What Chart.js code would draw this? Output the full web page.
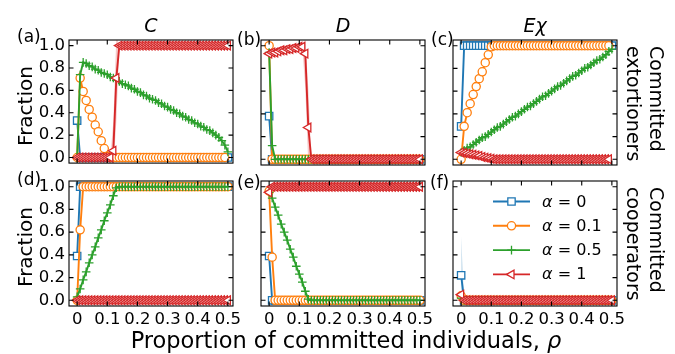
<!DOCTYPE html>
<html>
<head>
<meta charset="utf-8">
<script src="https://cdn.jsdelivr.net/npm/chart.js@4.4.0/dist/chart.umd.min.js"></script>
<style>
  body { margin: 0; background: #fff; width: 675px; height: 354px; overflow: hidden; position: relative;
         font-family: "DejaVu Sans", sans-serif; color: #000; }
  canvas { position: absolute; }
  .t { position: absolute; white-space: nowrap; line-height: 1; z-index: 2; }
  .c { transform: translate(-50%, -50%); }
  .rot { transform: translate(-50%, -50%) rotate(-90deg); }
  .side { writing-mode: vertical-rl; line-height: 23px; font-size: 19px; }
  .leg { font-size: 16px; }
</style>
</head>
<body>

<script>
// x grid: proportion of committed individuals
const rho = [0, 0.01, 0.02, 0.03, 0.04, 0.05, 0.06, 0.07, 0.08, 0.09,
  0.1, 0.11, 0.12, 0.13, 0.14, 0.15, 0.16, 0.17, 0.18, 0.19,
  0.2, 0.21, 0.22, 0.23, 0.24, 0.25, 0.26, 0.27, 0.28, 0.29,
  0.3, 0.31, 0.32, 0.33, 0.34, 0.35, 0.36, 0.37, 0.38, 0.39,
  0.4, 0.41, 0.42, 0.43, 0.44, 0.45, 0.46, 0.47, 0.48, 0.49, 0.5];
const xTicks = [0, 0.1, 0.2, 0.3, 0.4, 0.5];
const yTicks = [0, 0.2, 0.4, 0.6, 0.8, 1.0];
const alphas = ['0', '0.1', '0.5', '1'];
const titles = ['C', 'D', 'Eχ'];

// committed extortioners: fraction of C (a), D (b), Eχ (c)
const aBlue = [0.33, 0, 0, 0, 0, 0, 0, 0, 0, 0,
  0, 0, 0, 0, 0, 0, 0, 0, 0, 0, 0, 0, 0, 0, 0, 0, 0, 0, 0, 0,
  0, 0, 0, 0, 0, 0, 0, 0, 0, 0, 0, 0, 0, 0, 0, 0, 0, 0, 0, 0, 0];
const aOrange = [0, 0.71, 0.59, 0.51, 0.43, 0.36, 0.29, 0.23, 0.15, 0.08, 0.01,
  0, 0, 0, 0, 0, 0, 0, 0, 0, 0, 0, 0, 0, 0, 0, 0, 0, 0, 0,
  0, 0, 0, 0, 0, 0, 0, 0, 0, 0, 0, 0, 0, 0, 0, 0, 0, 0, 0, 0];
const aGreen = [0, 0.74, 0.85, 0.84, 0.82, 0.81, 0.79, 0.78, 0.76, 0.75,
  0.74, 0.72, 0.71, 0.69, 0.68, 0.66, 0.65, 0.64, 0.62, 0.61,
  0.59, 0.58, 0.56, 0.55, 0.53, 0.52, 0.51, 0.49, 0.48, 0.46,
  0.45, 0.43, 0.42, 0.40, 0.39, 0.37, 0.36, 0.34, 0.33, 0.31,
  0.30, 0.28, 0.27, 0.25, 0.24, 0.22, 0.20, 0.18, 0.15, 0.11, 0.05];
const aRed = [0, 0, 0, 0, 0, 0, 0, 0, 0, 0, 0, 0, 0.06, 0.71,
  1, 1, 1, 1, 1, 1, 1, 1, 1, 1, 1, 1, 1, 1, 1, 1, 1, 1, 1, 1, 1, 1,
  1, 1, 1, 1, 1, 1, 1, 1, 1, 1, 1, 1, 1, 1, 1];
// spread of the α = 1 runs around the jump
const aRedUpper = [0, 0, 0, 0, 0, 0, 0, 0, 0, 0, 0, 0, 0.32, 1.08,
  1, 1, 1, 1, 1, 1, 1, 1, 1, 1, 1, 1, 1, 1, 1, 1, 1, 1, 1, 1, 1, 1,
  1, 1, 1, 1, 1, 1, 1, 1, 1, 1, 1, 1, 1, 1, 1];
const aRedLower = [0, 0, 0, 0, 0, 0, 0, 0, 0, 0, 0, 0, -0.1, 0.32,
  1, 1, 1, 1, 1, 1, 1, 1, 1, 1, 1, 1, 1, 1, 1, 1, 1, 1, 1, 1, 1, 1,
  1, 1, 1, 1, 1, 1, 1, 1, 1, 1, 1, 1, 1, 1, 1];

const bBlue = [0.38, 0, 0, 0, 0, 0, 0, 0, 0, 0,
  0, 0, 0, 0, 0, 0, 0, 0, 0, 0, 0, 0, 0, 0, 0, 0, 0, 0, 0, 0,
  0, 0, 0, 0, 0, 0, 0, 0, 0, 0, 0, 0, 0, 0, 0, 0, 0, 0, 0, 0, 0];
const bOrange = [1, 0, 0, 0, 0, 0, 0, 0, 0, 0,
  0, 0, 0, 0, 0, 0, 0, 0, 0, 0, 0, 0, 0, 0, 0, 0, 0, 0, 0, 0,
  0, 0, 0, 0, 0, 0, 0, 0, 0, 0, 0, 0, 0, 0, 0, 0, 0, 0, 0, 0, 0];
const bGreen = [0.94, 0.12, 0, 0, 0, 0, 0, 0, 0, 0,
  0, 0, 0, 0, 0, 0, 0, 0, 0, 0, 0, 0, 0, 0, 0, 0, 0, 0, 0, 0,
  0, 0, 0, 0, 0, 0, 0, 0, 0, 0, 0, 0, 0, 0, 0, 0, 0, 0, 0, 0, 0];
const bRed = [0.93, 0.94, 0.94, 0.95, 0.96, 0.96, 0.97, 0.97, 0.98, 0.98,
  0.99, 0.99, 0.93, 0.28, 0, 0, 0, 0, 0, 0, 0, 0, 0, 0, 0, 0, 0, 0, 0, 0,
  0, 0, 0, 0, 0, 0, 0, 0, 0, 0, 0, 0, 0, 0, 0, 0, 0, 0, 0, 0, 0];
const bRedUpper = [0.93, 0.94, 0.94, 0.95, 0.96, 0.96, 0.97, 0.97, 0.98, 0.98,
  0.99, 0.99, 1.06, 0.62, 0, 0, 0, 0, 0, 0, 0, 0, 0, 0, 0, 0, 0, 0, 0, 0,
  0, 0, 0, 0, 0, 0, 0, 0, 0, 0, 0, 0, 0, 0, 0, 0, 0, 0, 0, 0, 0];
const bRedLower = [0.93, 0.94, 0.94, 0.95, 0.96, 0.96, 0.97, 0.97, 0.98, 0.98,
  0.99, 0.99, 0.62, -0.06, 0, 0, 0, 0, 0, 0, 0, 0, 0, 0, 0, 0, 0, 0, 0, 0,
  0, 0, 0, 0, 0, 0, 0, 0, 0, 0, 0, 0, 0, 0, 0, 0, 0, 0, 0, 0, 0];

const cBlue = [0.29, 1, 1, 1, 1, 1, 1, 1, 1, 1,
  1, 1, 1, 1, 1, 1, 1, 1, 1, 1, 1, 1, 1, 1, 1, 1, 1, 1, 1, 1,
  1, 1, 1, 1, 1, 1, 1, 1, 1, 1, 1, 1, 1, 1, 1, 1, 1, 1, 1, 1, 1];
const cOrange = [0, 0.29, 0.41, 0.49, 0.57, 0.64, 0.71, 0.77, 0.85, 0.92, 0.99,
  1, 1, 1, 1, 1, 1, 1, 1, 1, 1, 1, 1, 1, 1, 1, 1, 1, 1, 1,
  1, 1, 1, 1, 1, 1, 1, 1, 1, 1, 1, 1, 1, 1, 1, 1, 1, 1, 1, 1];
const cGreen = [0.06, 0.08, 0.10, 0.11, 0.13, 0.15, 0.17, 0.19, 0.20, 0.22,
  0.24, 0.26, 0.28, 0.29, 0.31, 0.33, 0.35, 0.37, 0.38, 0.40,
  0.42, 0.44, 0.46, 0.47, 0.49, 0.51, 0.53, 0.55, 0.56, 0.58,
  0.60, 0.62, 0.64, 0.65, 0.67, 0.69, 0.71, 0.73, 0.74, 0.76,
  0.78, 0.80, 0.81, 0.83, 0.85, 0.87, 0.88, 0.90, 0.92, 0.95, 0.97];
const cRed = [0.06, 0.055, 0.05, 0.045, 0.04, 0.035, 0.03, 0.02, 0.015, 0.01, 0.005,
  0, 0, 0, 0, 0, 0, 0, 0, 0, 0, 0, 0, 0, 0, 0, 0, 0, 0, 0,
  0, 0, 0, 0, 0, 0, 0, 0, 0, 0, 0, 0, 0, 0, 0, 0, 0, 0, 0, 0];

// committed cooperators: fraction of C (d), D (e), Eχ (f)
const dBlue = [0.39, 1, 1, 1, 1, 1, 1, 1, 1, 1,
  1, 1, 1, 1, 1, 1, 1, 1, 1, 1, 1, 1, 1, 1, 1, 1, 1, 1, 1, 1,
  1, 1, 1, 1, 1, 1, 1, 1, 1, 1, 1, 1, 1, 1, 1, 1, 1, 1, 1, 1, 1];
const dOrange = [0, 0.62, 1, 1, 1, 1, 1, 1, 1, 1,
  1, 1, 1, 1, 1, 1, 1, 1, 1, 1, 1, 1, 1, 1, 1, 1, 1, 1, 1, 1,
  1, 1, 1, 1, 1, 1, 1, 1, 1, 1, 1, 1, 1, 1, 1, 1, 1, 1, 1, 1, 1];
const dGreen = [0.03, 0.10, 0.18, 0.25, 0.33, 0.40, 0.47, 0.55, 0.62, 0.70,
  0.77, 0.84, 0.92, 0.99, 1, 1, 1, 1, 1, 1, 1, 1, 1, 1, 1, 1, 1, 1, 1, 1,
  1, 1, 1, 1, 1, 1, 1, 1, 1, 1, 1, 1, 1, 1, 1, 1, 1, 1, 1, 1, 1];
const dRed = [0, 0, 0, 0, 0, 0, 0, 0, 0, 0,
  0, 0, 0, 0, 0, 0, 0, 0, 0, 0, 0, 0, 0, 0, 0, 0, 0, 0, 0, 0,
  0, 0, 0, 0, 0, 0, 0, 0, 0, 0, 0, 0, 0, 0, 0, 0, 0, 0, 0, 0, 0];

const eBlue = [0.39, 0, 0, 0, 0, 0, 0, 0, 0, 0,
  0, 0, 0, 0, 0, 0, 0, 0, 0, 0, 0, 0, 0, 0, 0, 0, 0, 0, 0, 0,
  0, 0, 0, 0, 0, 0, 0, 0, 0, 0, 0, 0, 0, 0, 0, 0, 0, 0, 0, 0, 0];
const eOrange = [0.96, 0.38, 0, 0, 0, 0, 0, 0, 0, 0,
  0, 0, 0, 0, 0, 0, 0, 0, 0, 0, 0, 0, 0, 0, 0, 0, 0, 0, 0, 0,
  0, 0, 0, 0, 0, 0, 0, 0, 0, 0, 0, 0, 0, 0, 0, 0, 0, 0, 0, 0, 0];
const eGreen = [0.95, 0.90, 0.82, 0.75, 0.67, 0.60, 0.53, 0.45, 0.38, 0.30,
  0.23, 0.16, 0.08, 0.01, 0, 0, 0, 0, 0, 0, 0, 0, 0, 0, 0, 0, 0, 0, 0, 0,
  0, 0, 0, 0, 0, 0, 0, 0, 0, 0, 0, 0, 0, 0, 0, 0, 0, 0, 0, 0, 0];
const eRed = [0.95, 1, 1, 1, 1, 1, 1, 1, 1, 1,
  1, 1, 1, 1, 1, 1, 1, 1, 1, 1, 1, 1, 1, 1, 1, 1, 1, 1, 1, 1,
  1, 1, 1, 1, 1, 1, 1, 1, 1, 1, 1, 1, 1, 1, 1, 1, 1, 1, 1, 1, 1];

const fBlue = [0.22, 0, 0, 0, 0, 0, 0, 0, 0, 0,
  0, 0, 0, 0, 0, 0, 0, 0, 0, 0, 0, 0, 0, 0, 0, 0, 0, 0, 0, 0,
  0, 0, 0, 0, 0, 0, 0, 0, 0, 0, 0, 0, 0, 0, 0, 0, 0, 0, 0, 0, 0];
const fBlueUpper = [0.56, 0, 0, 0, 0, 0, 0, 0, 0, 0,
  0, 0, 0, 0, 0, 0, 0, 0, 0, 0, 0, 0, 0, 0, 0, 0, 0, 0, 0, 0,
  0, 0, 0, 0, 0, 0, 0, 0, 0, 0, 0, 0, 0, 0, 0, 0, 0, 0, 0, 0, 0];
const fBlueLower = [0, 0, 0, 0, 0, 0, 0, 0, 0, 0,
  0, 0, 0, 0, 0, 0, 0, 0, 0, 0, 0, 0, 0, 0, 0, 0, 0, 0, 0, 0,
  0, 0, 0, 0, 0, 0, 0, 0, 0, 0, 0, 0, 0, 0, 0, 0, 0, 0, 0, 0, 0];
const fOrange = [0.04, 0, 0, 0, 0, 0, 0, 0, 0, 0,
  0, 0, 0, 0, 0, 0, 0, 0, 0, 0, 0, 0, 0, 0, 0, 0, 0, 0, 0, 0,
  0, 0, 0, 0, 0, 0, 0, 0, 0, 0, 0, 0, 0, 0, 0, 0, 0, 0, 0, 0, 0];
const fGreen = [0.02, 0, 0, 0, 0, 0, 0, 0, 0, 0,
  0, 0, 0, 0, 0, 0, 0, 0, 0, 0, 0, 0, 0, 0, 0, 0, 0, 0, 0, 0,
  0, 0, 0, 0, 0, 0, 0, 0, 0, 0, 0, 0, 0, 0, 0, 0, 0, 0, 0, 0, 0];
const fRed = [0.05, 0, 0, 0, 0, 0, 0, 0, 0, 0,
  0, 0, 0, 0, 0, 0, 0, 0, 0, 0, 0, 0, 0, 0, 0, 0, 0, 0, 0, 0,
  0, 0, 0, 0, 0, 0, 0, 0, 0, 0, 0, 0, 0, 0, 0, 0, 0, 0, 0, 0, 0];

// ---- layout of the 2x3 grid (page pixels) ----
const colLeft = [69, 261, 453];
const rowTop = [40, 181];
const plotW = 164, plotH = 125;
const xMin = -0.027, xMax = 0.517, yMin = -0.05, yMax = 1.05;
const FONT = 'DejaVu Sans';
const TICK_SIZE = 16.5;

const colors = ['#1f77b4', '#ff7f0e', '#2ca02c', '#d62728'];
const markers = [
  { pointStyle: 'rect', radius: 5.2, rotation: 0 },
  { pointStyle: 'circle', radius: 4.1, rotation: 0 },
  { pointStyle: 'cross', radius: 4.3, rotation: 0 },
  { pointStyle: 'triangle', radius: 5, rotation: -90 }
];

function series(vals, k) {
  const m = markers[k];
  return {
    data: rho.map((r, i) => ({ x: r, y: vals[i] })),
    borderColor: colors[k],
    borderWidth: 1.9,
    pointStyle: m.pointStyle,
    pointRotation: m.rotation,
    pointRadius: m.radius,
    pointBorderWidth: 1.3,
    pointBorderColor: colors[k],
    pointBackgroundColor: '#fff',
    tension: 0,
    fill: false,
    order: 3 - k
  };
}

// shaded spread: upper edge filled down to the lower edge (next dataset)
function band(upper, lower, k) {
  const edge = vals => ({
    data: rho.map((r, i) => ({ x: r, y: vals[i] })),
    borderWidth: 0,
    pointRadius: 0,
    order: 10
  });
  return [
    Object.assign(edge(upper), { fill: '+1', backgroundColor: colors[k] + '40' }),
    Object.assign(edge(lower), { fill: false })
  ];
}

// inward ticks on all four sides plus the box
const frame = {
  id: 'frame',
  afterDatasetsDraw(chart) {
    const { ctx, chartArea: a, scales: { x, y } } = chart;
    const len = 4.5;
    ctx.save();
    ctx.strokeStyle = '#000';
    ctx.lineWidth = 1.1;
    ctx.beginPath();
    x.ticks.forEach(t => {
      const px = x.getPixelForValue(t.value);
      ctx.moveTo(px, a.bottom); ctx.lineTo(px, a.bottom - len);
      ctx.moveTo(px, a.top); ctx.lineTo(px, a.top + len);
    });
    y.ticks.forEach(t => {
      const py = y.getPixelForValue(t.value);
      ctx.moveTo(a.left, py); ctx.lineTo(a.left + len, py);
      ctx.moveTo(a.right, py); ctx.lineTo(a.right - len, py);
    });
    ctx.stroke();
    ctx.strokeRect(a.left, a.top, a.right - a.left, a.bottom - a.top);
    ctx.restore();
  }
};

// legend handles (line with marker in the middle) inside panel (f)
const legendRows = [20.5, 44.8, 69.1, 93.4];
const legendHandles = {
  id: 'legendHandles',
  afterDraw(chart) {
    const { ctx, chartArea: a } = chart;
    ctx.save();
    legendRows.forEach((dy, k) => {
      const y = a.top + dy, x0 = a.left + 40, x1 = a.left + 77;
      ctx.strokeStyle = colors[k];
      ctx.lineWidth = 1.9;
      ctx.beginPath(); ctx.moveTo(x0, y); ctx.lineTo(x1, y); ctx.stroke();
      ctx.fillStyle = '#fff';
      ctx.lineWidth = 1.3;
      Chart.helpers.drawPoint(ctx, {
        pointStyle: markers[k].pointStyle, rotation: markers[k].rotation,
        radius: markers[k].radius, borderWidth: 1.3
      }, (x0 + x1) / 2, y);
    });
    ctx.restore();
  }
};

function addText(html, cls, style) {
  const d = document.createElement('div');
  d.className = 't ' + cls;
  d.innerHTML = html;
  Object.assign(d.style, style);
  document.body.appendChild(d);
}

function makePanel(col, row, sets, extraPlugins) {
  const padL = col === 0 ? 52 : 12, padR = 16, padT = 14, padB = row === 1 ? 30 : 12;
  const w = plotW + padL + padR, h = plotH + padT + padB;
  const cv = document.createElement('canvas');
  cv.width = w; cv.height = h;
  cv.style.width = w + 'px'; cv.style.height = h + 'px';
  cv.style.left = (colLeft[col] - padL) + 'px';
  cv.style.top = (rowTop[row] - padT) + 'px';
  document.body.appendChild(cv);

  new Chart(cv, {
    type: 'line',
    data: { datasets: sets },
    options: {
      responsive: false,
      animation: false,
      devicePixelRatio: 1,
      layout: { padding: { left: 0, top: padT, right: padR, bottom: 0 } },
      plugins: { legend: { display: false }, tooltip: { enabled: false } },
      scales: {
        x: {
          type: 'linear', min: xMin, max: xMax,
          afterBuildTicks: s => { s.ticks = xTicks.map(v => ({ value: v })); },
          afterFit: s => { s.height = padB; },
          grid: { display: false, drawTicks: false }, border: { display: false },
          ticks: {
            display: row === 1, color: '#000', padding: 4, maxRotation: 0, autoSkip: false,
            font: { family: FONT, size: TICK_SIZE },
            callback: v => (v === 0 ? '0' : v.toFixed(1))
          }
        },
        y: {
          type: 'linear', min: yMin, max: yMax,
          afterBuildTicks: s => { s.ticks = yTicks.map(v => ({ value: v })); },
          afterFit: s => { s.width = padL; },
          grid: { display: false, drawTicks: false }, border: { display: false },
          ticks: {
            display: col === 0, color: '#000', padding: 4, autoSkip: false,
            font: { family: FONT, size: TICK_SIZE },
            callback: v => v.toFixed(1)
          }
        }
      }
    },
    plugins: [frame].concat(extraPlugins || [])
  });
}

const panels = [
  [aBlue, aOrange, aGreen, aRed],
  [bBlue, bOrange, bGreen, bRed],
  [cBlue, cOrange, cGreen, cRed],
  [dBlue, dOrange, dGreen, dRed],
  [eBlue, eOrange, eGreen, eRed],
  [fBlue, fOrange, fGreen, fRed]
];
const bands = {
  0: band(aRedUpper, aRedLower, 3),
  1: band(bRedUpper, bRedLower, 3),
  5: band(fBlueUpper, fBlueLower, 0)
};

panels.forEach((p, n) => {
  const col = n % 3, row = Math.floor(n / 3);
  const sets = p.map((vals, k) => series(vals, k)).concat(bands[n] || []);
  makePanel(col, row, sets, n === 5 ? [legendHandles] : []);
});

// titles and panel tags
titles.forEach((s, i) => addText(s, 'c', { left: (colLeft[i] + plotW / 2) + 'px', top: '25px', fontSize: '19px', fontStyle: 'italic' }));
const tags = [['(a)', 17, 37], ['(b)', 237, 40], ['(c)', 431, 40], ['(d)', 17, 180], ['(e)', 237, 183], ['(f)', 430, 183]];
tags.forEach(([s, x, y]) => addText(s, '', { left: x + 'px', top: (y - 9) + 'px', fontSize: '17px' }));

// axis labels
addText('Fraction', 'rot', { left: '25px', top: '106px', fontSize: '20px' });
addText('Fraction', 'rot', { left: '25px', top: '247px', fontSize: '20px' });
addText('Proportion of committed individuals, <i>ρ</i>', 'c', { left: '346px', top: '340px', fontSize: '22.5px' });
addText('Committed<br>extortioners', 'side', { left: '622px', top: '46px' });
addText('Committed<br>cooperators', 'side', { left: '622px', top: '187px' });

// legend labels
alphas.forEach((a, k) => addText('<i>α</i> = ' + a, 'leg', {
  left: (colLeft[2] + 89) + 'px', top: (rowTop[1] + legendRows[k] - 8) + 'px'
}));
</script>
</body>
</html>
